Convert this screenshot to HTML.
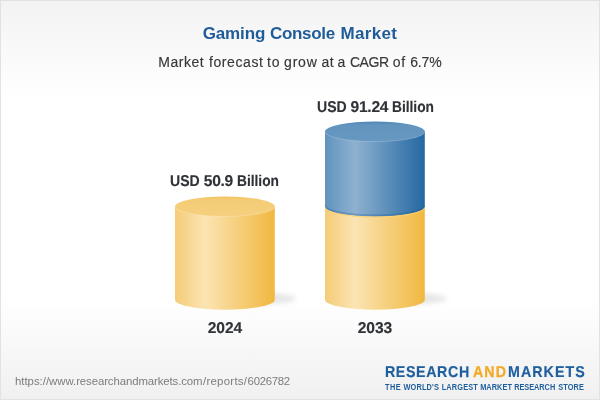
<!DOCTYPE html>
<html>
<head>
<meta charset="utf-8">
<title>Gaming Console Market</title>
<style>
html,body{margin:0;padding:0;}
body{width:600px;height:400px;overflow:hidden;background:#fff;font-family:"Liberation Sans",sans-serif;}
#card{position:relative;width:598px;height:398px;border:1px solid #e2e2e2;
 background:linear-gradient(to bottom,#f3f3f3 0%,#ffffff 24%,#ffffff 75%,#f0f0f0 100%);overflow:hidden;}
.t{position:absolute;white-space:nowrap;line-height:1;}
#title{left:0;width:598px;text-align:center;top:24px;font-size:17px;font-weight:bold;color:#1f5c99;}
#sub{left:157.2px;top:53.8px;font-size:14px;color:#383838;-webkit-text-stroke:0.15px #383838;letter-spacing:0.34px;}
.lbl{font-size:15.6px;transform:rotate(0.1deg);font-weight:bold;color:#2f3237;-webkit-text-stroke:0.15px #2f3237;text-align:center;width:200px;letter-spacing:-0.4px;}
.u,.b{display:inline-block;letter-spacing:0;transform:scaleX(0.87);transform-origin:0 50%;}
.u{margin-right:-4.5px;transform:scaleX(0.9);}
.b{margin-right:-6.6px;transform:scaleX(0.88);margin-left:-0.2px}
.n{letter-spacing:-0.3px;margin-left:1.2px;}
#l1{left:123.3px;top:171.5px;}
#l2{left:273.5px;top:97.5px;}
#y1{left:123.5px;top:319.1px;letter-spacing:-0.05px;}
#y2{left:274.1px;top:319.1px;letter-spacing:-0.05px;}
#url{left:14px;top:375.1px;font-size:11.4px;color:#7c7c7c;letter-spacing:-0.02px;}
.lg{top:363.4px;font-size:15.8px;font-weight:bold;color:#1f5f9e;transform:rotate(0.1deg) scaleX(0.9);transform-origin:0 0;-webkit-text-stroke:0.2px #1f5f9e;}
#w1{left:383.5px;letter-spacing:0.7px;}
#w2{left:471.5px;letter-spacing:1.2px;color:#f2ab28;-webkit-text-stroke:0.3px #f2ab28;}
#w3{left:507.3px;letter-spacing:1.2px;}
#tag{left:384.4px;top:382.4px;font-size:8.4px;font-weight:bold;color:#1f5f9e;letter-spacing:0.17px;transform:scaleX(0.88);transform-origin:0 0;}
svg{position:absolute;left:-1px;top:-1px;}
</style>
</head>
<body>
<div id="card">
<svg width="600" height="400" viewBox="0 0 600 400">
 <defs>
  <linearGradient id="gy" x1="0" x2="1" y1="0" y2="0">
   <stop offset="0" stop-color="#f5cc78"/>
   <stop offset="0.3" stop-color="#fbe4b3"/>
   <stop offset="1" stop-color="#f1b840"/>
  </linearGradient>
  <linearGradient id="gb" x1="0" x2="1" y1="0" y2="0">
   <stop offset="0" stop-color="#6093be"/>
   <stop offset="0.3" stop-color="#8eb1d0"/>
   <stop offset="1" stop-color="#2468a1"/>
  </linearGradient>
  <linearGradient id="ty" x1="0" x2="0" y1="0" y2="1">
   <stop offset="0" stop-color="#f2c462"/>
   <stop offset="0.18" stop-color="#f4cc76"/>
   <stop offset="1" stop-color="#f5d07e"/>
  </linearGradient>
  <linearGradient id="tb" x1="0" x2="0" y1="0" y2="1">
   <stop offset="0" stop-color="#4f86b6"/>
   <stop offset="0.18" stop-color="#6294be"/>
   <stop offset="1" stop-color="#6798c1"/>
  </linearGradient>
  <clipPath id="c1"><rect x="175" y="100" width="99.8" height="220"/></clipPath>
  <clipPath id="c2"><rect x="325" y="100" width="99.8" height="220"/></clipPath>
  <filter id="blur" x="-50%" y="-50%" width="200%" height="200%"><feGaussianBlur stdDeviation="2.5"/></filter>
 </defs>
 <!-- shadows -->
 <ellipse cx="246" cy="298.5" rx="50" ry="6.5" fill="#000" opacity="0.095" filter="url(#blur)"/>
 <ellipse cx="396" cy="298.5" rx="51" ry="6.5" fill="#000" opacity="0.095" filter="url(#blur)"/>
 <!-- cylinder 1 -->
 <path d="M175 206.5 L175 299.7 A49.9 10 0 0 0 274.8 299.7 L274.8 206.5 Z" fill="url(#gy)"/>
 <ellipse cx="224.9" cy="206.5" rx="49.9" ry="10" fill="url(#ty)"/>
 <path clip-path="url(#c1)" d="M175 206.5 A49.9 10 0 0 0 274.8 206.5" fill="none" stroke="#fff" stroke-opacity="0.28" stroke-width="0.8"/>
 <!-- cylinder 2 -->
 <path d="M325 206.5 L325 299.7 A49.9 10 0 0 0 424.8 299.7 L424.8 206.5 Z" fill="url(#gy)"/>
 <path d="M325 131.6 L325 206.5 A49.9 10 0 0 0 424.8 206.5 L424.8 131.6 Z" fill="url(#gb)"/>
 <ellipse cx="374.9" cy="131.6" rx="49.9" ry="10" fill="url(#tb)"/>
 <path clip-path="url(#c2)" d="M325 131.6 A49.9 10 0 0 0 424.8 131.6" fill="none" stroke="#fff" stroke-opacity="0.25" stroke-width="0.8"/>
 <path clip-path="url(#c2)" d="M325 205.3 A49.9 10 0 0 0 424.8 205.3" fill="none" stroke="#1d5a94" stroke-opacity="0.3" stroke-width="2"/>
 <path clip-path="url(#c2)" d="M325 207.2 A49.9 10 0 0 0 424.8 207.2" fill="none" stroke="#ffd070" stroke-opacity="0.9" stroke-width="1"/>
</svg>
<div class="t" id="title"><span style="letter-spacing:-0.12px">Gaming</span> <span style="letter-spacing:-0.29px">Console</span> <span style="letter-spacing:0.35px;margin-left:0.75px">Market</span></div>
<div class="t" id="sub"><span style="letter-spacing:0.55px">Market</span> <span style="letter-spacing:0.59px;margin-left:0.5px">forecast</span> <span style="letter-spacing:0.8px;margin-left:-0.75px">to</span> <span style="letter-spacing:0.8px;margin-left:-0.5px">grow</span> <span style="letter-spacing:0.4px;margin-left:-0.25px">at</span> <span style="margin-left:-0.75px">a</span> <span style="letter-spacing:-0.45px">CAGR</span> <span style="letter-spacing:0.7px">of</span> <span style="letter-spacing:-0.15px">6.7%</span></div>
<div class="t lbl" id="l1"><span class="u">USD</span> <span class="n">50.9</span> <span class="b">Billion</span></div>
<div class="t lbl" id="l2"><span class="u">USD</span> <span class="n">91.24</span> <span class="b">Billion</span></div>
<div class="t lbl" id="y1">2024</div>
<div class="t lbl" id="y2">2033</div>
<div class="t" id="url">https://www.<span style="letter-spacing:-0.1px">researchandmarkets.com</span><span style="letter-spacing:0.28px;margin-left:0.5px">/reports/</span><span style="letter-spacing:-0.3px;margin-left:0.3px">6026782</span></div>
<div class="t lg" id="w1">RESEARCH</div>
<div class="t lg" id="w2">AND</div>
<div class="t lg" id="w3">MARKETS</div>
<div class="t" id="tag"><span style="letter-spacing:0.57px">THE</span> WORLD'S <span style="margin-left:0.57px">LARGEST</span> <span style="letter-spacing:0.06px">MARKET</span> <span style="letter-spacing:-0.06px">RESEARCH</span> <span style="margin-left:0.9px">STORE</span></div>
</div>
</body>
</html>
